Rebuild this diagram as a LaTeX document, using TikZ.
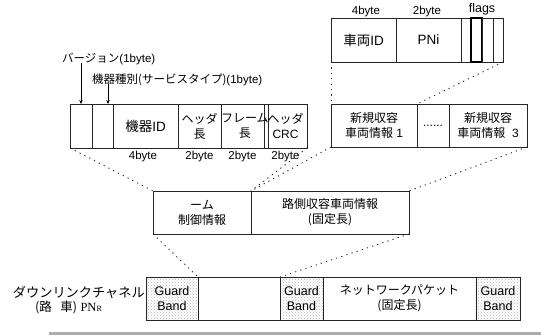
\documentclass[tikz,border=0pt]{standalone}
\usepackage{fontspec}
\setmainfont{Liberation Sans}
\newfontfamily\jpf{Noto Sans CJK JP}
\newfontfamily\serifpn{Liberation Serif}
\newcommand\jp[1]{{\jpf #1}}
\usetikzlibrary{arrows.meta,patterns}
\begin{document}
\begin{tikzpicture}[x=1pt,y=-1pt,
  cell/.style={draw=black!85, line width=0.9pt, inner sep=0pt, outer sep=0pt, anchor=north west, align=center, minimum height=43pt, font=\fontsize{12}{15}\selectfont},
  bigtxt/.style={font=\fontsize{13.5}{15}\selectfont},
  guard/.style={cell, pattern=crosshatch dots, pattern color=gray!60, font=\fontsize{12.5}{14.5}\selectfont},
  bytelab/.style={font=\fontsize{11.5}{13}\selectfont, inner sep=0pt},
  annot/.style={font=\fontsize{11.5}{13}\selectfont, inner sep=0pt, anchor=west},
  conn/.style={dash pattern=on 1.2pt off 4.2pt, line width=0.9pt, black!85},
  arr/.style={-{Stealth[length=4pt,width=3.5pt]}, line width=0.7pt}
]
\useasboundingbox (0,0) rectangle (541,335);

% top-left header row
\node[cell, minimum width=22pt, minimum height=44pt] (v) at (70,104) {};
\node[cell, minimum width=21pt, minimum height=44pt] (s) at (92,104) {};
\node[cell, bigtxt, minimum width=65pt, minimum height=44pt] (id) at (113,104) {\jp{機器}ID};
\node[cell, minimum width=43pt, minimum height=44pt] (hl) at (178,104) {\jp{ヘッダ}\\\jp{長}};
\node[cell, minimum width=43pt, minimum height=44pt] (fl) at (221,104) {\jp{フレーム}\\\jp{長}};
\node[cell, minimum width=43pt, minimum height=44pt] (crc) at (264,104) {\jp{ヘッダ}\\CRC};
\node[bytelab] (b1) at (143,157) {4byte};
\node[bytelab] (b2) at (199.5,157) {2byte};
\node[bytelab] (b3) at (242.5,157) {2byte};
\node[bytelab] (b4) at (285.5,157) {2byte};

\node[annot] (vlab) at (62,59) {\jp{バージョン}(1byte)};
\node[annot] (slab) at (92,80) {\jp{機器種別(サービスタイプ)}(1byte)};
\draw[arr] (v.north |- vlab.south) ++(0,-2) -- (v.north);
\draw[arr] ([xshift=5.5pt]s.north |- slab.south) ++(0,-2) -- ([xshift=5.5pt]s.north);

% top-right vehicle info row
\node[cell, bigtxt, minimum width=65pt, minimum height=44pt] (vid) at (331,18) {\jp{車両}ID};
\node[cell, bigtxt, minimum width=65pt, minimum height=44pt] (pni) at (396,18) {PNi};
\node[cell, minimum width=10pt, minimum height=44pt] (f1) at (461,18) {};
\node[cell, minimum width=11pt, minimum height=44pt, line width=1.4pt, draw=black] (f2) at (471,18) {};
\node[cell, minimum width=11pt, minimum height=44pt] (f3) at (482,18) {};
\node[cell, minimum width=10pt, minimum height=44pt] (f4) at (493,18) {};
\node[bytelab] (t1) at (366,12) {4byte};
\node[bytelab] (t2) at (427,12) {2byte};
\node[font=\fontsize{12.5}{13}\selectfont, inner sep=0pt] (t3) at (482,9) {flags};

% middle-right row
\node[cell, minimum width=86pt] (n1) at (331,104) {\jp{新規収容}\\\jp{車両情報} 1};
\node[cell, minimum width=32pt] (nd) at (417,104) {......};
\node[cell, minimum width=78pt] (n3) at (449,104) {\jp{新規収容}\\\jp{車両情報}\ \ 3};

% middle box
\node[cell, minimum width=98pt] (fc) at (153,191) {\jp{ーム}\\\jp{制御情報}};
\node[cell, minimum width=158pt] (rs) at (251,191) {\jp{路側収容車両情報}\\\jp{(固定長)}};

% bottom row
\node[guard, minimum width=52pt] (g1) at (146,277) {Guard\\Band};
\node[cell, minimum width=82pt] (e) at (198,277) {};
\node[guard, minimum width=43pt] (g2) at (280,277) {Guard\\Band};
\node[cell, minimum width=153pt] (np) at (323,277) {\jp{ネットワークパケット}\\\jp{(固定長)}};
\node[guard, minimum width=44pt] (g3) at (476,277) {Guard\\Band};

\node[font=\fontsize{13.2}{14}\selectfont, inner sep=0pt, anchor=east] (dl) at (145,293) {\jp{ダウンリンクチャネル}};
\node[font=\fontsize{12.5}{14}\selectfont, inner sep=0pt, anchor=west] (pn) at (35,307) {\jp{(路\ \ \ 車)}\ {\serifpn PN{\fontsize{8}{9}\selectfont R}}};

% dotted connectors
\draw[conn] (v.south west) -- (fc.north west);
\draw[conn] (crc.south east) -- (fc.north east);
\draw[conn] (n1.south west) -- (fc.north east);
\draw[conn] (n3.south east) -- (rs.north east);
\draw[conn] (fc.south west) -- (g1.north east);
\draw[conn] (rs.south east) -- (g2.north west);
\draw[conn] (vid.south west) -- (n1.north west);
\draw[conn] (f4.south east) -- (n1.north east);

% bottom gray bar
\fill[gray!65] (49,331.5) rectangle (541,335);
\end{tikzpicture}
\end{document}
